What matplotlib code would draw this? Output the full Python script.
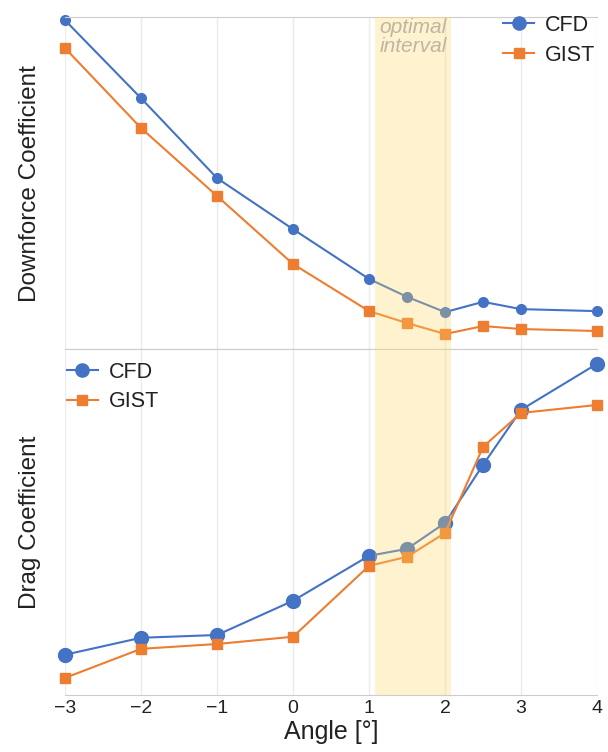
import matplotlib
matplotlib.use("Agg")
import matplotlib.pyplot as plt

plt.rcParams['font.family'] = ['Liberation Sans', 'DejaVu Sans']
plt.rcParams['text.color'] = '#222222'
plt.rcParams['axes.labelcolor'] = '#222222'
plt.rcParams['xtick.color'] = '#222222'

angles = [-3, -2, -1, 0, 1, 1.5, 2, 2.5, 3, 4]
downforce_cfd = [0.991, 0.756, 0.515, 0.361, 0.211, 0.157, 0.111, 0.142, 0.120, 0.114]
downforce_gist = [0.907, 0.666, 0.461, 0.256, 0.114, 0.078, 0.045, 0.069, 0.060, 0.054]
drag_cfd = [0.116, 0.165, 0.173, 0.272, 0.402, 0.422, 0.497, 0.665, 0.824, 0.957]
drag_gist = [0.049, 0.133, 0.147, 0.168, 0.373, 0.399, 0.468, 0.717, 0.815, 0.838]
optimal = (1.08, 2.08)

blue = '#4472C4'
orange = '#ED7D31'

fig = plt.figure(figsize=(6.08, 7.52), dpi=100)
ax1 = fig.add_axes([0.107, 0.536, 0.875, 0.441])
ax2 = fig.add_axes([0.107, 0.076, 0.875, 0.460])

def style(ax):
    ax.set_xlim(-3, 4)
    ax.set_ylim(0, 1)
    ax.set_xticks(range(-3, 5))
    ax.set_yticks([])
    ax.grid(axis='x', color='#ebebeb', linewidth=1)
    ax.set_axisbelow(True)
    for s in ['left', 'right']:
        ax.spines[s].set_visible(False)
    for s in ['top', 'bottom']:
        ax.spines[s].set_color('#cccccc')
    ax.tick_params(length=0, labelsize=14, pad=4)
    ax.axvspan(*optimal, color='#FFD762', alpha=0.3, lw=0, zorder=5)

def legend(ax, loc, anchor):
    leg = ax.legend(loc=loc, bbox_to_anchor=anchor, frameon=False, fontsize=15.5,
                    handlelength=1.45, handletextpad=0.5, labelspacing=0.4,
                    borderaxespad=0.1, borderpad=0.1)
    leg.legend_handles[0].set_markersize(9.5)
    leg.legend_handles[1].set_markersize(7)
    return leg

style(ax1)
ax1.plot(angles, downforce_cfd, '-o', color=blue, ms=7, lw=1.5, label='CFD', clip_on=False)
ax1.plot(angles, downforce_gist, '-s', color=orange, ms=7, lw=1.5, label='GIST', clip_on=False)
ax1.tick_params(labelbottom=False)
ax1.set_ylabel('Downforce Coefficient', fontsize=17.5, labelpad=17)
legend(ax1, 'upper right', (1.005, 1.02))
ax1.text(sum(optimal) / 2, 0.998, 'optimal\ninterval', ha='center', va='top',
         fontsize=15, style='italic', color='#bdb6a3', linespacing=1.0, zorder=6)

style(ax2)
ax2.plot(angles, drag_cfd, '-o', color=blue, ms=10, lw=1.5, label='CFD', clip_on=False)
ax2.plot(angles, drag_gist, '-s', color=orange, ms=7.5, lw=1.5, label='GIST', clip_on=False)
ax2.set_ylabel('Drag Coefficient', fontsize=17.5, labelpad=17)
ax2.set_xlabel('Angle [°]', fontsize=18, labelpad=2)
legend(ax2, 'upper left', (-0.005, 0.975))

fig.savefig('out.png', dpi=100)
